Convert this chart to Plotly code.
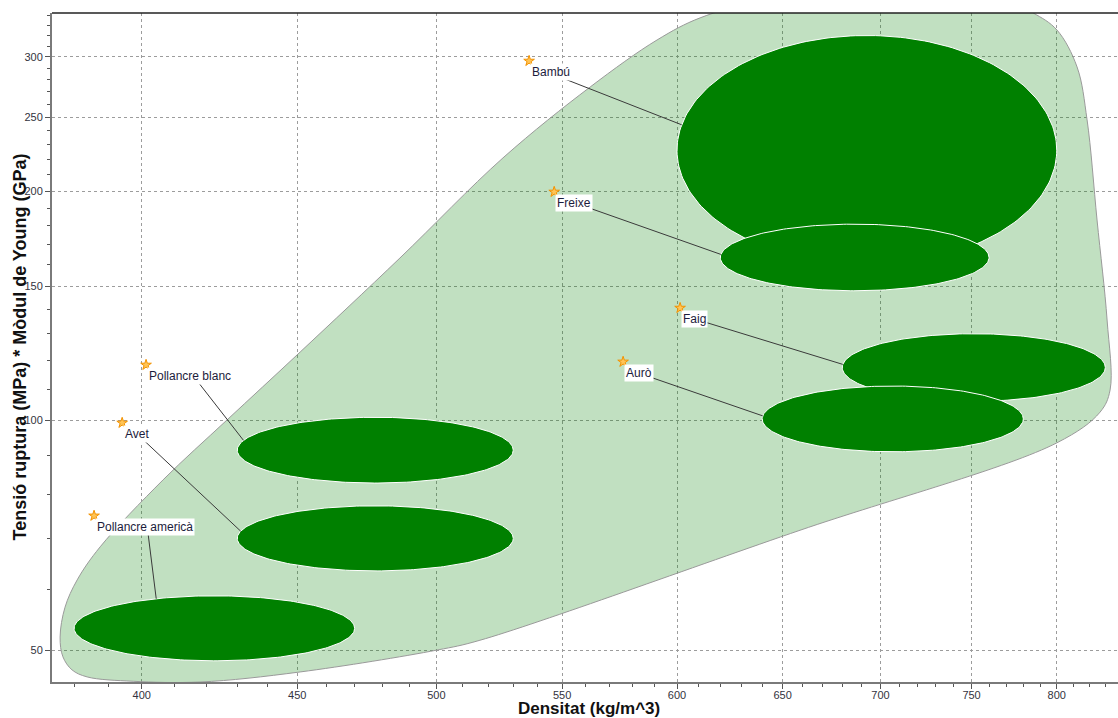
import numpy as np
import plotly.graph_objects as go

# ---- Data -------------------------------------------------------------
materials = ["Pollancre americà", "Avet", "Pollancre blanc", "Bambú", "Freixe", "Faig", "Aurò"]
density_lo = [380, 430, 430, 600, 620, 680, 640]
density_hi = [470, 530, 530, 800, 760, 830, 780]
property_lo = [48.4, 63.5, 82.8, 160, 148, 106, 91]
property_hi = [58.9, 77.3, 101, 320, 181, 130, 111]

# label anchor points (star markers)
label_density = [385.8, 394.1, 401.3, 536.4, 546.7, 601.4, 576.0]
label_property = [75.0, 99.3, 118.3, 296.3, 199.5, 140.5, 119.4]

# outline of the family envelope (clockwise, starting at the top)
envelope_density = [710.5, 766.4, 785.8, 800.1, 812.4, 818.6, 824.8, 831.1, 833.0,
                    826.7, 800.1, 658.6, 516.8, 500.3, 451.0, 418.1, 397.4, 383.8,
                    379.4, 376.8, 376.0, 377.4, 380.9, 387.6, 406.5, 426.7, 451.0,
                    486.4, 525.9, 561.8, 591.0, 610.6, 639.0]
envelope_property = [361.7, 358.5, 342.6, 325.4, 291.0, 248.0, 183.3, 135.5, 109.7,
                     102.6, 93.5, 71.8, 51.5, 50.0, 46.8, 45.4, 45.5, 46.1,
                     47.1, 49.0, 52.0, 56.9, 61.8, 68.3, 83.6, 100.2, 123.0,
                     163.4, 221.1, 273.9, 315.7, 337.5, 354.2]

x_ticks = [400, 450, 500, 550, 600, 650, 700, 750, 800]
y_ticks = [50, 100, 150, 200, 250, 300]
x_minor = [v for v in range(380, 840, 10) if v % 50 != 0]
y_minor = [v for v in range(60, 350, 10) if v % 50 != 0]

# ---- Layout geometry ----------------------------------------------------
W, H = 1118, 718
M = dict(l=52, r=0, t=13, b=36)
X_RANGE = [np.log10(373.7), np.log10(838.0)]
Y_RANGE = [np.log10(45.4), np.log10(342.5)]
PW = W - M["l"] - M["r"]
PH = H - M["t"] - M["b"]


def to_px(x, y):
    px = M["l"] + (np.log10(x) - X_RANGE[0]) / (X_RANGE[1] - X_RANGE[0]) * PW
    py = M["t"] + (Y_RANGE[1] - np.log10(y)) / (Y_RANGE[1] - Y_RANGE[0]) * PH
    return px, py


def from_px(px, py):
    lx = X_RANGE[0] + (px - M["l"]) / PW * (X_RANGE[1] - X_RANGE[0])
    ly = Y_RANGE[1] - (py - M["t"]) / PH * (Y_RANGE[1] - Y_RANGE[0])
    return 10 ** lx, 10 ** ly


def ellipse(dlo, dhi, plo, phi, n=240):
    t = np.linspace(0, 2 * np.pi, n)
    cx = (np.log10(dlo) + np.log10(dhi)) / 2
    rx = (np.log10(dhi) - np.log10(dlo)) / 2
    cy = (np.log10(plo) + np.log10(phi)) / 2
    ry = (np.log10(phi) - np.log10(plo)) / 2
    return 10 ** (cx + rx * np.cos(t)), 10 ** (cy + ry * np.sin(t))


fig = go.Figure()

# envelope
ex = envelope_density + envelope_density[:1]
ey = envelope_property + envelope_property[:1]
fig.add_trace(go.Scatter(
    x=ex, y=ey, mode="lines", fill="toself",
    line=dict(color="#9a9a9a", width=1, shape="spline", smoothing=1.0),
    fillcolor="rgba(0,128,0,0.245)", hoverinfo="skip", showlegend=False))

# material bubbles
ell_pts = []
for i, name in enumerate(materials):
    xs, ys = ellipse(density_lo[i], density_hi[i], property_lo[i], property_hi[i])
    ell_pts.append((xs, ys))
    fig.add_trace(go.Scatter(
        x=xs, y=ys, mode="lines", fill="toself", name=name,
        line=dict(color="white", width=1), fillcolor="#008000",
        hoverinfo="name", showlegend=False))

# leader lines from label centre to nearest point on the bubble
SHIFT_X, SHIFT_Y = 1, 2
CHAR_W = 5.9
for i, name in enumerate(materials):
    sx, sy = to_px(label_density[i], label_property[i])
    cx = sx + SHIFT_X + (len(name) * CHAR_W + 4) / 2
    cy = sy + SHIFT_Y + 9
    xs, ys = ell_pts[i]
    px, py = to_px(xs, ys)
    k = np.argmin((px - cx) ** 2 + (py - cy) ** 2)
    lx, ly = from_px(cx, cy)
    fig.add_trace(go.Scatter(
        x=[lx, xs[k]], y=[ly, ys[k]], mode="lines",
        line=dict(color="#3a3a3a", width=1), hoverinfo="skip", showlegend=False))

# labels
for i, name in enumerate(materials):
    fig.add_annotation(
        x=np.log10(label_density[i]), y=np.log10(label_property[i]),
        xref="x", yref="y", text=name, showarrow=False,
        xanchor="left", yanchor="top", xshift=SHIFT_X, yshift=-SHIFT_Y,
        bgcolor="white", borderpad=1,
        font=dict(family="Liberation Sans", size=12, color="#1c1c3c"))

# star markers
fig.add_trace(go.Scatter(
    x=label_density, y=label_property, mode="markers",
    marker=dict(symbol="star", size=8, color="#ffc457",
                line=dict(color="#f39200", width=1)),
    hoverinfo="skip", showlegend=False))

axis_common = dict(
    showgrid=True, gridcolor="#9c9c9c", griddash="3px,3px", gridwidth=1,
    showline=True, linecolor="#7a7a7a", linewidth=2,
    ticks="outside", ticklen=5, tickcolor="#555555", tickwidth=1,
    tickfont=dict(family="Liberation Sans", size=11, color="#333340"),
    zeroline=False, automargin=False,
)

fig.update_xaxes(type="log", range=X_RANGE, tickmode="array",
                 tickvals=x_ticks, ticktext=[str(v) for v in x_ticks],
                 ticklabelstandoff=-3,
                 minor=dict(tickmode="array", tickvals=x_minor, ticks="outside",
                            ticklen=3, tickcolor="#555555", showgrid=False),
                 **axis_common)
fig.update_yaxes(type="log", range=Y_RANGE, tickmode="array",
                 tickvals=y_ticks, ticktext=[str(v) for v in y_ticks],
                 minor=dict(tickmode="array", tickvals=y_minor, ticks="outside",
                            ticklen=3, tickcolor="#555555", showgrid=False),
                 **axis_common)

# axis titles
fig.add_annotation(
    x=(589 - M["l"]) / PW, y=-26 / PH, xref="paper", yref="paper",
    text="<b>Densitat (kg/m^3)</b>", showarrow=False,
    xanchor="center", yanchor="middle",
    font=dict(family="Liberation Sans", size=17, color="#111111"))
fig.add_annotation(
    x=-(M["l"] - 19) / PW, y=0.5, xref="paper", yref="paper",
    text="<b>Tensió ruptura (MPa) * Mòdul de Young (GPa)</b>", showarrow=False,
    textangle=-90, xanchor="center", yanchor="middle",
    font=dict(family="Liberation Sans", size=18, color="#111111"))

# top frame line
fig.add_shape(type="line", xref="paper", yref="paper", x0=0, x1=1, y0=1, y1=1,
              line=dict(color="#222222", width=1.5))

fig.update_layout(
    width=W, height=H, margin=M,
    paper_bgcolor="white", plot_bgcolor="white",
    showlegend=False,
)

fig.write_html("out.html")
